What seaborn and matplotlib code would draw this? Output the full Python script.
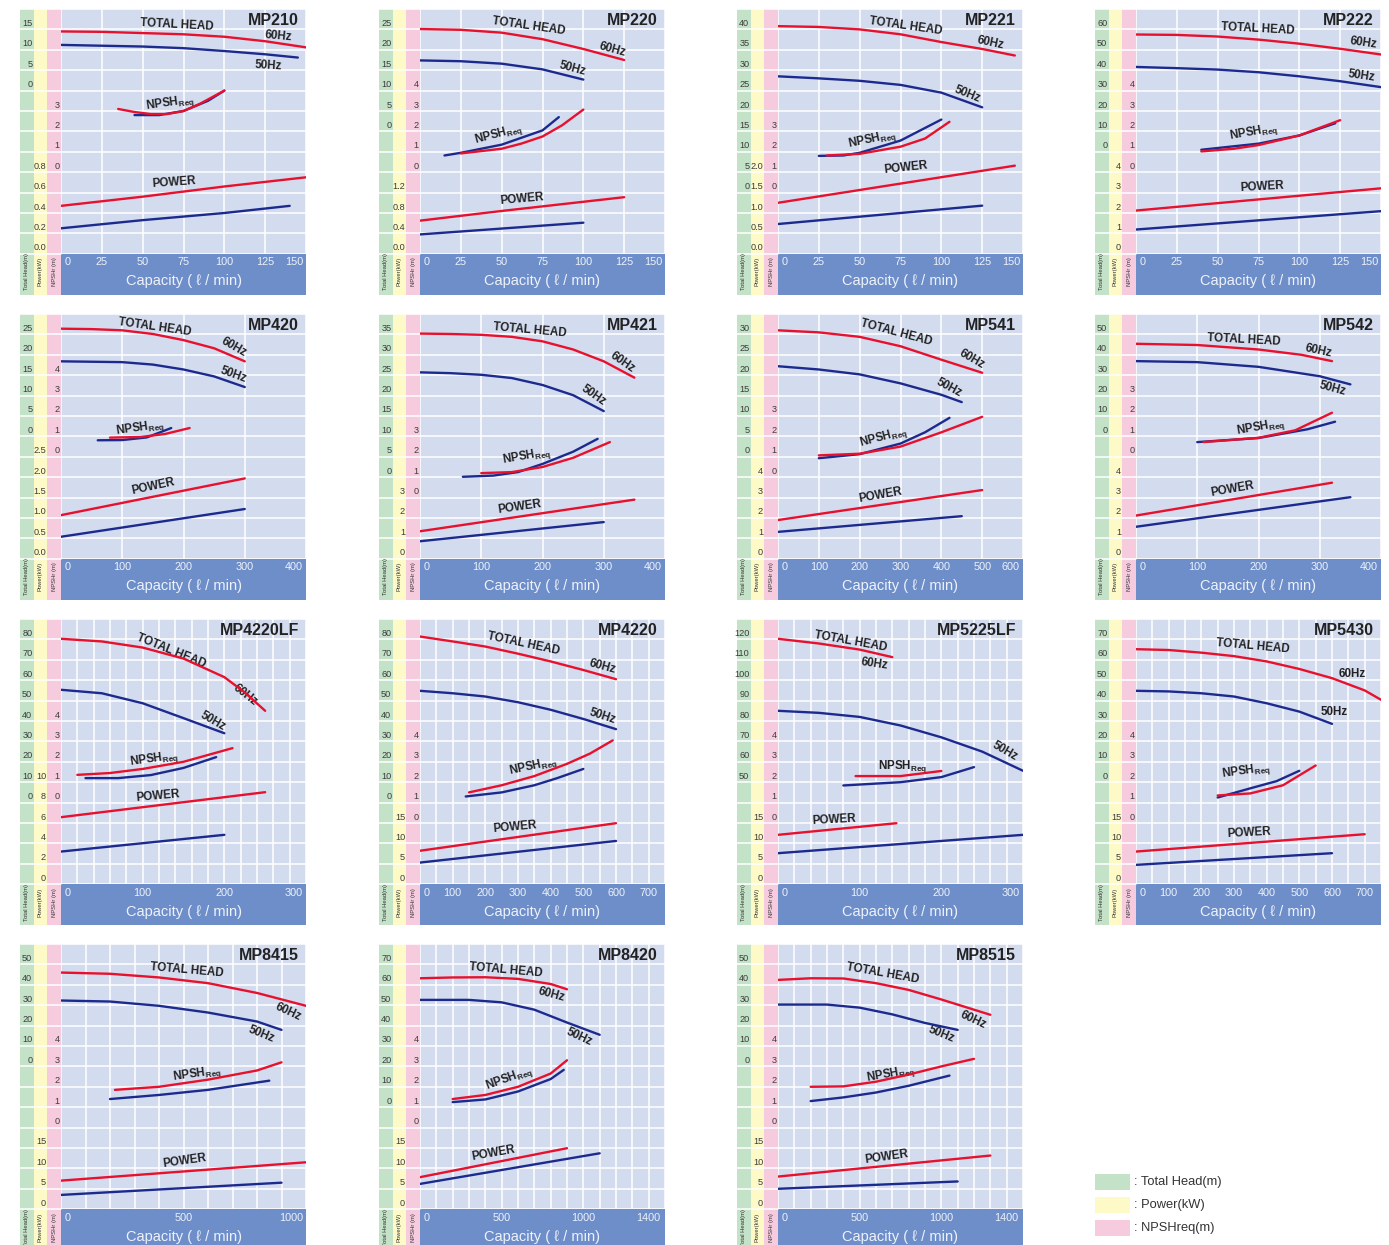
import matplotlib
matplotlib.use("Agg")
import numpy as np
import pandas as pd
import matplotlib.pyplot as plt
from matplotlib import transforms, font_manager
from matplotlib.patches import Rectangle
import seaborn as sns

# ---------------------------------------------------------------------------
# Pump curves: (capacity l/min, value) pairs for 60 Hz and 50 Hz
# HEAD in m, NPSH in m, POWER in kW
# ---------------------------------------------------------------------------
MP210_HEAD_60 = [(0, 14.5), (25, 14.4), (50, 14.1), (75, 13.8), (100, 13.2), (125, 12.1), (150, 10.6)]
MP210_HEAD_50 = [(0, 11.2), (25, 11.0), (50, 10.8), (75, 10.4), (100, 9.7), (125, 8.9), (145, 8.1)]
MP210_NPSH_60 = [(35, 3.1), (45, 2.95), (55, 2.85), (65, 2.85), (75, 3.0), (85, 3.35), (100, 4.0)]
MP210_NPSH_50 = [(45, 2.8), (60, 2.8), (75, 3.0), (90, 3.5), (100, 4.0)]
MP210_POWER_60 = [(0, 0.47), (50, 0.56), (100, 0.66), (150, 0.75)]
MP210_POWER_50 = [(0, 0.25), (50, 0.33), (100, 0.40), (140, 0.47)]

MP220_HEAD_60 = [(0, 25.1), (25, 24.9), (50, 24.2), (75, 22.6), (100, 20.2), (125, 17.5)]
MP220_HEAD_50 = [(0, 17.4), (25, 17.2), (50, 16.6), (75, 15.2), (100, 12.7)]
MP220_NPSH_60 = [(25, 0.92), (50, 1.15), (62, 1.4), (75, 1.75), (87, 2.3), (100, 3.07)]
MP220_NPSH_50 = [(15, 0.82), (25, 0.95), (50, 1.35), (75, 2.05), (85, 2.7)]
MP220_POWER_60 = [(0, 0.65), (50, 0.84), (125, 1.11)]
MP220_POWER_50 = [(0, 0.38), (100, 0.61)]

MP221_HEAD_60 = [(0, 40.8), (25, 40.6), (50, 40.0), (75, 38.8), (100, 36.9), (125, 35.2), (145, 33.6)]
MP221_HEAD_50 = [(0, 28.5), (25, 28.0), (50, 27.4), (75, 26.4), (100, 24.5), (125, 20.9)]
MP221_NPSH_60 = [(30, 1.82), (50, 1.9), (75, 2.25), (90, 2.65), (105, 3.47)]
MP221_NPSH_50 = [(25, 1.8), (40, 1.82), (50, 1.95), (75, 2.55), (100, 3.58)]
MP221_POWER_60 = [(0, 1.25), (145, 2.16)]
MP221_POWER_50 = [(0, 0.73), (125, 1.18)]

MP222_HEAD_60 = [(0, 57.5), (25, 57.3), (50, 56.5), (75, 55.0), (100, 53.0), (125, 50.5), (150, 47.7)]
MP222_HEAD_50 = [(0, 41.6), (25, 41.0), (50, 40.3), (75, 39.0), (100, 37.0), (125, 34.6), (150, 31.7)]
MP222_NPSH_60 = [(40, 1.02), (60, 1.15), (75, 1.33), (100, 1.8), (125, 2.55)]
MP222_NPSH_50 = [(40, 1.1), (75, 1.4), (100, 1.8), (122, 2.4)]
MP222_POWER_60 = [(0, 2.12), (150, 3.21)]
MP222_POWER_50 = [(0, 1.19), (150, 2.09)]

MP420_HEAD_60 = [(0, 26.4), (50, 26.3), (100, 26.0), (150, 25.1), (200, 23.6), (250, 21.6), (300, 18.4)]
MP420_HEAD_50 = [(0, 18.4), (100, 18.2), (150, 17.6), (200, 16.4), (250, 14.7), (300, 12.1)]
MP420_NPSH_60 = [(80, 0.94), (130, 0.97), (170, 1.12), (210, 1.41)]
MP420_NPSH_50 = [(60, 0.81), (100, 0.82), (140, 0.95), (180, 1.41)]
MP420_POWER_60 = [(0, 1.07), (300, 1.97)]
MP420_POWER_50 = [(0, 0.54), (300, 1.22)]

MP421_HEAD_60 = [(0, 35.2), (50, 35.1), (100, 34.9), (150, 34.4), (200, 33.3), (250, 31.3), (300, 28.4), (350, 24.4)]
MP421_HEAD_50 = [(0, 25.7), (50, 25.5), (100, 25.1), (150, 24.3), (200, 22.6), (250, 20.1), (300, 16.2)]
MP421_NPSH_60 = [(100, 1.2), (150, 1.25), (200, 1.5), (250, 1.95), (310, 2.72)]
MP421_NPSH_50 = [(70, 1.02), (120, 1.08), (160, 1.25), (200, 1.65), (250, 2.25), (290, 2.88)]
MP421_POWER_60 = [(0, 1.35), (350, 2.9)]
MP421_POWER_50 = [(0, 0.86), (300, 1.8)]

MP541_HEAD_60 = [(0, 31.0), (100, 30.5), (200, 29.4), (300, 27.1), (400, 23.8), (500, 20.6)]
MP541_HEAD_50 = [(0, 22.2), (100, 21.4), (200, 20.2), (300, 18.0), (400, 15.2), (450, 13.4)]
MP541_NPSH_60 = [(100, 1.07), (200, 1.15), (300, 1.5), (400, 2.2), (500, 2.96)]
MP541_NPSH_50 = [(100, 0.93), (200, 1.13), (300, 1.65), (360, 2.2), (420, 2.91)]
MP541_POWER_60 = [(0, 1.9), (500, 3.37)]
MP541_POWER_50 = [(0, 1.32), (450, 2.09)]

MP542_HEAD_60 = [(0, 45.4), (100, 44.8), (200, 42.6), (270, 40.0), (320, 36.9)]
MP542_HEAD_50 = [(0, 36.9), (100, 36.4), (200, 34.1), (300, 29.5), (350, 25.5)]
MP542_NPSH_60 = [(110, 0.72), (200, 0.93), (260, 1.3), (320, 2.16)]
MP542_NPSH_50 = [(100, 0.72), (200, 0.92), (280, 1.35), (325, 1.72)]
MP542_POWER_60 = [(0, 2.12), (320, 3.73)]
MP542_POWER_50 = [(0, 1.57), (350, 3.02)]

MP4220LF_HEAD_60 = [(0, 80.3), (50, 79.0), (100, 76.0), (150, 70.6), (200, 61.5), (225, 54.0), (250, 45.0)]
MP4220LF_HEAD_50 = [(0, 55.3), (50, 53.6), (100, 48.7), (150, 41.4), (200, 34.0)]
MP4220LF_NPSH_60 = [(20, 1.36), (60, 1.45), (100, 1.65), (150, 2.0), (210, 2.67)]
MP4220LF_NPSH_50 = [(30, 1.2), (70, 1.2), (110, 1.35), (150, 1.7), (190, 2.23)]
MP4220LF_POWER_60 = [(0, 6.57), (250, 9.02)]
MP4220LF_POWER_50 = [(0, 3.2), (200, 4.84)]

MP4220_HEAD_60 = [(0, 81.4), (100, 79.0), (200, 76.5), (300, 73.0), (400, 69.2), (500, 65.0), (600, 60.5)]
MP4220_HEAD_50 = [(0, 54.8), (100, 53.6), (200, 52.0), (300, 49.2), (400, 45.5), (500, 41.0), (600, 36.0)]
MP4220_NPSH_60 = [(150, 1.5), (250, 1.85), (350, 2.3), (450, 2.9), (520, 3.4), (590, 4.05)]
MP4220_NPSH_50 = [(140, 1.3), (250, 1.5), (350, 1.85), (420, 2.2), (500, 2.65)]
MP4220_POWER_60 = [(0, 8.2), (600, 14.95)]
MP4220_POWER_50 = [(0, 5.3), (600, 10.6)]

MP5225LF_HEAD_60 = [(0, 120.3), (50, 118.0), (100, 115.0), (140, 111.3)]
MP5225LF_HEAD_50 = [(0, 85.0), (50, 84.0), (100, 82.0), (150, 77.8), (200, 72.0), (250, 65.0), (300, 55.6)]
MP5225LF_NPSH_60 = [(95, 2.3), (150, 2.3), (200, 2.55)]
MP5225LF_NPSH_50 = [(80, 1.84), (150, 2.0), (200, 2.25), (240, 2.74)]
MP5225LF_POWER_60 = [(0, 12.1), (145, 14.95)]
MP5225LF_POWER_50 = [(0, 7.6), (300, 12.1)]

MP5430_HEAD_60 = [(0, 65.2), (100, 64.8), (200, 63.5), (300, 61.8), (400, 59.2), (500, 55.5), (600, 51.0), (700, 45.0), (750, 40.4)]
MP5430_HEAD_50 = [(0, 44.8), (100, 44.5), (200, 43.6), (300, 42.0), (400, 38.7), (500, 34.6), (600, 28.6)]
MP5430_NPSH_60 = [(250, 1.35), (350, 1.45), (450, 1.85), (550, 2.82)]
MP5430_NPSH_50 = [(250, 1.25), (350, 1.7), (430, 2.05), (500, 2.56)]
MP5430_POWER_60 = [(0, 8.0), (700, 12.25)]
MP5430_POWER_50 = [(0, 4.74), (600, 7.6)]

MP8415_HEAD_60 = [(0, 46.0), (200, 45.4), (400, 43.6), (600, 40.8), (800, 36.0), (1000, 29.7)]
MP8415_HEAD_50 = [(0, 32.3), (200, 31.8), (400, 29.7), (600, 26.4), (800, 22.0), (900, 17.9)]
MP8415_NPSH_60 = [(220, 1.85), (400, 2.0), (600, 2.35), (800, 2.8), (900, 3.2)]
MP8415_NPSH_50 = [(200, 1.4), (400, 1.6), (600, 1.85), (850, 2.3)]
MP8415_POWER_60 = [(0, 7.0), (1000, 11.5)]
MP8415_POWER_50 = [(0, 3.5), (900, 6.5)]

MP8420_HEAD_60 = [(0, 63.2), (200, 63.6), (400, 63.7), (600, 62.9), (800, 60.4), (900, 57.8)]
MP8420_HEAD_50 = [(0, 52.6), (300, 52.6), (500, 51.4), (700, 47.8), (900, 41.5), (1000, 38.5), (1100, 35.5)]
MP8420_NPSH_60 = [(200, 1.4), (400, 1.6), (600, 2.0), (800, 2.65), (900, 3.3)]
MP8420_NPSH_50 = [(200, 1.25), (400, 1.38), (600, 1.77), (800, 2.38), (880, 2.83)]
MP8420_POWER_60 = [(0, 7.85), (900, 14.95)]
MP8420_POWER_50 = [(0, 6.2), (1100, 13.7)]

MP8515_HEAD_60 = [(0, 42.4), (200, 43.2), (400, 43.1), (600, 40.8), (800, 37.5), (1000, 32.8), (1200, 27.8), (1300, 25.3)]
MP8515_HEAD_50 = [(0, 30.3), (300, 30.3), (500, 28.8), (700, 25.5), (900, 21.3), (1100, 17.9)]
MP8515_NPSH_60 = [(200, 2.0), (400, 2.02), (600, 2.25), (800, 2.6), (1000, 3.0), (1200, 3.37)]
MP8515_NPSH_50 = [(200, 1.3), (400, 1.48), (600, 1.72), (800, 2.05), (1050, 2.55)]
MP8515_POWER_60 = [(0, 8.0), (1300, 13.15)]
MP8515_POWER_50 = [(0, 5.0), (1100, 6.8)]

# ---------------------------------------------------------------------------
# Tick labels for each chart
# ---------------------------------------------------------------------------
MP210_Q_TICKS = [0, 25, 50, 75, 100, 125, 150]
MP210_HEAD_TICKS = [0, 5, 10, 15]
MP210_NPSH_TICKS = [0, 1, 2, 3]
MP210_POWER_TICKS = [0.0, 0.2, 0.4, 0.6, 0.8]

MP220_Q_TICKS = [0, 25, 50, 75, 100, 125, 150]
MP220_HEAD_TICKS = [0, 5, 10, 15, 20, 25]
MP220_NPSH_TICKS = [0, 1, 2, 3, 4]
MP220_POWER_TICKS = [0.0, 0.4, 0.8, 1.2]

MP221_Q_TICKS = [0, 25, 50, 75, 100, 125, 150]
MP221_HEAD_TICKS = [0, 5, 10, 15, 20, 25, 30, 35, 40]
MP221_NPSH_TICKS = [0, 1, 2, 3]
MP221_POWER_TICKS = [0.0, 0.5, 1.0, 1.5, 2.0]

MP222_Q_TICKS = [0, 25, 50, 75, 100, 125, 150]
MP222_HEAD_TICKS = [0, 10, 20, 30, 40, 50, 60]
MP222_NPSH_TICKS = [0, 1, 2, 3, 4]
MP222_POWER_TICKS = [0, 1, 2, 3, 4]

MP420_Q_TICKS = [0, 100, 200, 300, 400]
MP420_HEAD_TICKS = [0, 5, 10, 15, 20, 25]
MP420_NPSH_TICKS = [0, 1, 2, 3, 4]
MP420_POWER_TICKS = [0.0, 0.5, 1.0, 1.5, 2.0, 2.5]

MP421_Q_TICKS = [0, 100, 200, 300, 400]
MP421_HEAD_TICKS = [0, 5, 10, 15, 20, 25, 30, 35]
MP421_NPSH_TICKS = [0, 1, 2, 3]
MP421_POWER_TICKS = [0, 1, 2, 3]

MP541_Q_TICKS = [0, 100, 200, 300, 400, 500, 600]
MP541_HEAD_TICKS = [0, 5, 10, 15, 20, 25, 30]
MP541_NPSH_TICKS = [0, 1, 2, 3]
MP541_POWER_TICKS = [0, 1, 2, 3, 4]

MP542_Q_TICKS = [0, 100, 200, 300, 400]
MP542_HEAD_TICKS = [0, 10, 20, 30, 40, 50]
MP542_NPSH_TICKS = [0, 1, 2, 3]
MP542_POWER_TICKS = [0, 1, 2, 3, 4]

MP4220LF_Q_TICKS = [0, 100, 200, 300]
MP4220LF_HEAD_TICKS = [0, 10, 20, 30, 40, 50, 60, 70, 80]
MP4220LF_NPSH_TICKS = [0, 1, 2, 3, 4]
MP4220LF_POWER_TICKS = [0, 2, 4, 6, 8, 10]

MP4220_Q_TICKS = [0, 100, 200, 300, 400, 500, 600, 700]
MP4220_HEAD_TICKS = [0, 10, 20, 30, 40, 50, 60, 70, 80]
MP4220_NPSH_TICKS = [0, 1, 2, 3, 4]
MP4220_POWER_TICKS = [0, 5, 10, 15]

MP5225LF_Q_TICKS = [0, 100, 200, 300]
MP5225LF_HEAD_TICKS = [50, 60, 70, 80, 90, 100, 110, 120]
MP5225LF_NPSH_TICKS = [0, 1, 2, 3, 4]
MP5225LF_POWER_TICKS = [0, 5, 10, 15]

MP5430_Q_TICKS = [0, 100, 200, 300, 400, 500, 600, 700]
MP5430_HEAD_TICKS = [0, 10, 20, 30, 40, 50, 60, 70]
MP5430_NPSH_TICKS = [0, 1, 2, 3, 4]
MP5430_POWER_TICKS = [0, 5, 10, 15]

MP8415_Q_TICKS = [0, 500, 1000]
MP8415_HEAD_TICKS = [0, 10, 20, 30, 40, 50]
MP8415_NPSH_TICKS = [0, 1, 2, 3, 4]
MP8415_POWER_TICKS = [0, 5, 10, 15]

MP8420_Q_TICKS = [0, 500, 1000, 1400]
MP8420_HEAD_TICKS = [0, 10, 20, 30, 40, 50, 60, 70]
MP8420_NPSH_TICKS = [0, 1, 2, 3, 4]
MP8420_POWER_TICKS = [0, 5, 10, 15]

MP8515_Q_TICKS = [0, 500, 1000, 1400]
MP8515_HEAD_TICKS = [0, 10, 20, 30, 40, 50]
MP8515_NPSH_TICKS = [0, 1, 2, 3, 4]
MP8515_POWER_TICKS = [0, 5, 10, 15]

LEGEND_LABELS = [": Total Head(m)", ": Power(kW)", ": NPSHreq(m)"]

# ---------------------------------------------------------------------------
# Layout: grid cell, row of each scale's zero line, step per grid row,
# capacity range, and where the curve captions sit (capacity, grid row, angle)
# ---------------------------------------------------------------------------
LAYOUT = {
    "MP210": dict(cell=(0, 0), head0=8, hstep=5, npsh0=4, pstep=0.2, qmax=150, qgrid=25,
                  notes=[(71, 11.24, -3), (133, 10.67, -5), (127, 9.23, -3), (67, 7.4, 8), (69, 3.51, 4)]),
    "MP220": dict(cell=(0, 1), head0=6, hstep=5, npsh0=4, pstep=0.4, qmax=150, qgrid=25,
                  notes=[(66.5, 11.16, -8), (118, 10.02, -15), (93.6, 9.08, -15), (48, 5.85, 15), (62.4, 2.66, 5)]),
    "MP221": dict(cell=(0, 2), head0=3, hstep=5, npsh0=3, pstep=0.5, qmax=150, qgrid=25,
                  notes=[(78.5, 11.16, -8), (130, 10.34, -12), (116, 7.84, -22), (58, 5.6, 12), (78.5, 4.22, 6)]),
    "MP222": dict(cell=(0, 3), head0=5, hstep=10, npsh0=4, pstep=1, qmax=150, qgrid=25,
                  notes=[(74.4, 11.0, -3), (139, 10.34, -8), (138, 8.74, -8), (72.4, 5.93, 10), (77.4, 3.27, 3)]),
    "MP420": dict(cell=(1, 0), head0=6, hstep=5, npsh0=5, pstep=0.5, qmax=400, qgrid=100,
                  notes=[(153, 11.37, -8), (283, 10.39, -30), (281, 9.04, -20), (130, 6.42, 8), (150, 3.56, 12)]),
    "MP421": dict(cell=(1, 1), head0=4, hstep=5, npsh0=3, pstep=1, qmax=400, qgrid=100,
                  notes=[(179, 11.2, -5), (330, 9.61, -35), (283, 8.01, -35), (174, 5.03, 10), (163, 2.55, 8)]),
    "MP541": dict(cell=(1, 2), head0=5, hstep=5, npsh0=4, pstep=1, qmax=600, qgrid=100,
                  notes=[(289, 11.08, -15), (474, 9.8, -30), (418, 8.38, -28), (258, 5.93, 15), (250, 3.1, 10)]),
    "MP542": dict(cell=(1, 3), head0=6, hstep=10, npsh0=5, pstep=1, qmax=400, qgrid=100,
                  notes=[(176, 10.72, -3), (298, 10.21, -12), (321, 8.33, -15), (203, 6.42, 10), (158, 3.4, 10)]),
    "MP4220LF": dict(cell=(2, 0), head0=4, hstep=10, npsh0=4, pstep=2, qmax=300, qgrid=20,
                     notes=[(135, 11.41, -22), (226, 9.28, -38), (186, 7.97, -30), (114, 6.14, 8), (119, 4.3, 5)]),
    "MP4220": dict(cell=(2, 1), head0=4, hstep=10, npsh0=3, pstep=5, qmax=750, qgrid=50,
                   notes=[(316, 11.81, -12), (559, 10.67, -15), (559, 8.22, -18), (347, 5.77, 12), (289, 2.78, 5)]),
    "MP5225LF": dict(cell=(2, 2), head0=0, hstep=10, npsh0=3, pstep=5, qmax=300, qgrid=20,
                     notes=[(88.6, 11.9, -10), (118, 10.78, -8), (277.6, 6.5, -30), (153, 5.77, 0), (68.6, 3.15, 3)]),
    "MP5430": dict(cell=(2, 3), head0=5, hstep=10, npsh0=3, pstep=5, qmax=750, qgrid=50,
                   notes=[(359, 11.65, -5), (661, 10.29, 0), (607, 8.43, 0), (338, 5.52, 8), (347, 2.5, 3)]),
    "MP8415": dict(cell=(3, 0), head0=7, hstep=10, npsh0=4, pstep=5, qmax=1000, qgrid=100,
                   notes=[(514, 11.7, -5), (928, 9.69, -25), (816, 8.59, -22), (555, 6.63, 8), (503, 2.34, 8)]),
    "MP8420": dict(cell=(3, 1), head0=5, hstep=10, npsh0=4, pstep=5, qmax=1500, qgrid=100,
                   notes=[(523, 11.73, -5), (807, 10.51, -15), (974, 8.43, -25), (549, 6.42, 20), (446, 2.75, 10)]),
    "MP8515": dict(cell=(3, 2), head0=7, hstep=10, npsh0=4, pstep=5, qmax=1500, qgrid=100,
                   notes=[(644, 11.57, -10), (1198, 9.28, -25), (997, 8.55, -22), (691, 6.63, 10), (665, 2.55, 8)]),
}
NOTE_TEXT = ["TOTAL HEAD", "60Hz", "50Hz", r"NPSH$_{\mathbf{Req}}$", "POWER"]

# figure geometry in pixels
W, H = 1389, 1245
PLOT_LEFT = [61, 420, 778, 1136]
PLOT_W = 245
ROW_TOP = [9, 314, 619, 944]
ROW_COUNT = [12, 12, 13, 13]
ROW_H = 20.4
STRIP_W = 13.7
BAR_H = 41

PLOT_BG = "#d3dbef"
GREEN = "#c3e2c7"
YELLOW = "#fdfac8"
PINK = "#f6cbdd"
BAR_BLUE = "#6e8ec9"
LINE_COLORS = {"60Hz": "#e8112d", "50Hz": "#1c2a8e"}
INK = "#222222"
SCALE_INK = "#3c3c3c"

sns.set_theme(style="white")
plt.rcParams["font.family"] = ["Liberation Sans", "DejaVu Sans"]
plt.rcParams["mathtext.fontset"] = "custom"
plt.rcParams["mathtext.rm"] = "Liberation Sans"
plt.rcParams["mathtext.bf"] = "Liberation Sans:bold"

_installed = {f.name for f in font_manager.fontManager.ttflist}
if "Liberation Sans Narrow" in _installed:
    NARROW = ["Liberation Sans Narrow", "DejaVu Sans"]
    SCALE_SIZE = 7.2
else:
    NARROW = ["Liberation Sans", "DejaVu Sans"]
    SCALE_SIZE = 6.6
SANS = ["Liberation Sans", "DejaVu Sans"]


def curve_frame(model, key):
    g = globals()
    rows = []
    for hz in ("50", "60"):
        for q, v in g[f"{model}_{key}_{hz}"]:
            rows.append((q, v, hz + "Hz"))
    return pd.DataFrame(rows, columns=["q", "v", "hz"])


def shift(fig, trans, dx_px, dy_px):
    return trans + transforms.ScaledTranslation(dx_px / fig.dpi, dy_px / fig.dpi, fig.dpi_scale_trans)


def draw_panel(fig, model, lay):
    g = globals()
    r, c = lay["cell"]
    n = ROW_COUNT[r]
    h_px = n * ROW_H
    ax = fig.add_axes([PLOT_LEFT[c] / W, 1 - (ROW_TOP[r] + h_px) / H, PLOT_W / W, h_px / H])
    ax.set_facecolor(PLOT_BG)
    for s in ax.spines.values():
        s.set_visible(False)
    qmax = lay["qmax"]
    ax.set_xticks(np.arange(0, qmax + 1e-6, lay["qgrid"]))
    ax.set_yticks(np.arange(0, n + 1))
    ax.grid(True, color="white", linewidth=1.1)
    ax.set_axisbelow(True)
    ax.tick_params(length=0, labelbottom=False, labelleft=False)

    sx = STRIP_W / PLOT_W
    bar = BAR_H / h_px
    for i, col in enumerate([GREEN, YELLOW, PINK]):
        ax.add_patch(Rectangle((-(3 - i) * sx, -bar), sx, 1 + bar, transform=ax.transAxes,
                               facecolor=col, edgecolor="none", clip_on=False, zorder=0))
    ax.add_patch(Rectangle((0, -bar), 1, bar, transform=ax.transAxes,
                           facecolor=BAR_BLUE, edgecolor="none", clip_on=False, zorder=0))
    row_tr = transforms.blended_transform_factory(ax.transAxes, ax.transData)
    for k in range(n + 1):
        ax.plot([-3 * sx, 0], [k, k], transform=row_tr, color="white", lw=1.1,
                clip_on=False, zorder=1)

    # one overlaid axis per quantity, sharing the capacity axis
    h0, hs = lay["head0"], lay["hstep"]
    lims = {
        "HEAD": (-h0 * hs, (n - h0) * hs),
        "NPSH": (-lay["npsh0"], n - lay["npsh0"]),
        "POWER": (0, n * lay["pstep"]),
    }
    scale_ax = {}
    for key in ("POWER", "NPSH", "HEAD"):
        t = ax.twinx()
        sns.lineplot(data=curve_frame(model, key), x="q", y="v", hue="hz",
                     hue_order=["50Hz", "60Hz"], palette=LINE_COLORS, estimator=None,
                     sort=False, linewidth=1.7, legend=False, ax=t)
        for ln in t.lines:
            ln.set_solid_joinstyle("round")
        t.set_ylim(*lims[key])
        t.axis("off")
        scale_ax[key] = t

    # scale labels inside the coloured strips
    for strip, key, fmt in ((0, "HEAD", "{:.0f}"), (2, "NPSH", "{:.0f}"),
                            (1, "POWER", "{:.1f}" if lay["pstep"] < 1 else "{:.0f}")):
        t = scale_ax[key]
        tr = shift(fig, transforms.blended_transform_factory(ax.transAxes, t.transData), 0, 6)
        x_right = -(2 - strip) * sx - 1.2 / PLOT_W
        for v in g[f"{model}_{key}_TICKS"]:
            ax.text(x_right, v, fmt.format(v), transform=tr, ha="right", va="center",
                    fontsize=SCALE_SIZE, color=SCALE_INK, family=NARROW)

    # rotated strip captions beside the capacity bar
    for i, lab in enumerate(["Total Head(m)", "Power(kW)", "NPSHr (m)"]):
        ax.text(-(3 - i) * sx + sx / 2, 0, lab, transform=shift(fig, ax.transAxes, 0, -18),
                rotation=90, ha="center", va="center", fontsize=4.2, color="#333333",
                family=NARROW)

    # capacity ticks and title in the blue bar
    xt = transforms.blended_transform_factory(ax.transData, ax.transAxes)
    for q in g[f"{model}_Q_TICKS"]:
        if q == 0:
            ha, dx = "left", 4
        elif q >= qmax:
            ha, dx = "right", -3
        else:
            ha, dx = "center", 0
        ax.text(q, 0, f"{q}", transform=shift(fig, xt, dx, -8.5), ha=ha, va="center",
                fontsize=7.8, color="#eef2fa", family=SANS)
    ax.text(0.5, 0, "Capacity ( \u2113 / min)", transform=shift(fig, ax.transAxes, 0, -27.5),
            ha="center", va="center", fontsize=10.5, color="#eef2fa", family=SANS)

    ax.text(1, 1, model, transform=shift(fig, ax.transAxes, -7, -4), ha="right", va="top",
            fontsize=11.5, fontweight="bold", color=INK, family=SANS)

    for txt, (q, row, rot) in zip(NOTE_TEXT, lay["notes"]):
        ax.text(q, row, txt, rotation=rot, rotation_mode="anchor", ha="center", va="center",
                fontsize=8.4, fontweight="bold", color=INK, family=SANS, zorder=5)

    ax.set_xlim(0, qmax)
    ax.set_ylim(0, n)
    for t in scale_ax.values():
        t.set_xlim(0, qmax)


fig = plt.figure(figsize=(W / 100, H / 100), dpi=100)
fig.patch.set_facecolor("white")

for model, lay in LAYOUT.items():
    draw_panel(fig, model, lay)

# colour key, lower right
for i, (col, lab) in enumerate(zip([GREEN, YELLOW, PINK], LEGEND_LABELS)):
    top = 1174 + i * 23
    fig.add_artist(Rectangle((1095 / W, 1 - (top + 16) / H), 35 / W, 16 / H,
                             transform=fig.transFigure, facecolor=col, edgecolor="none"))
    fig.text(1134 / W, 1 - (top + 8) / H, lab, ha="left", va="center",
             fontsize=9.3, color="#333333", family=SANS)

fig.savefig("out.png", dpi=100, facecolor="white")
